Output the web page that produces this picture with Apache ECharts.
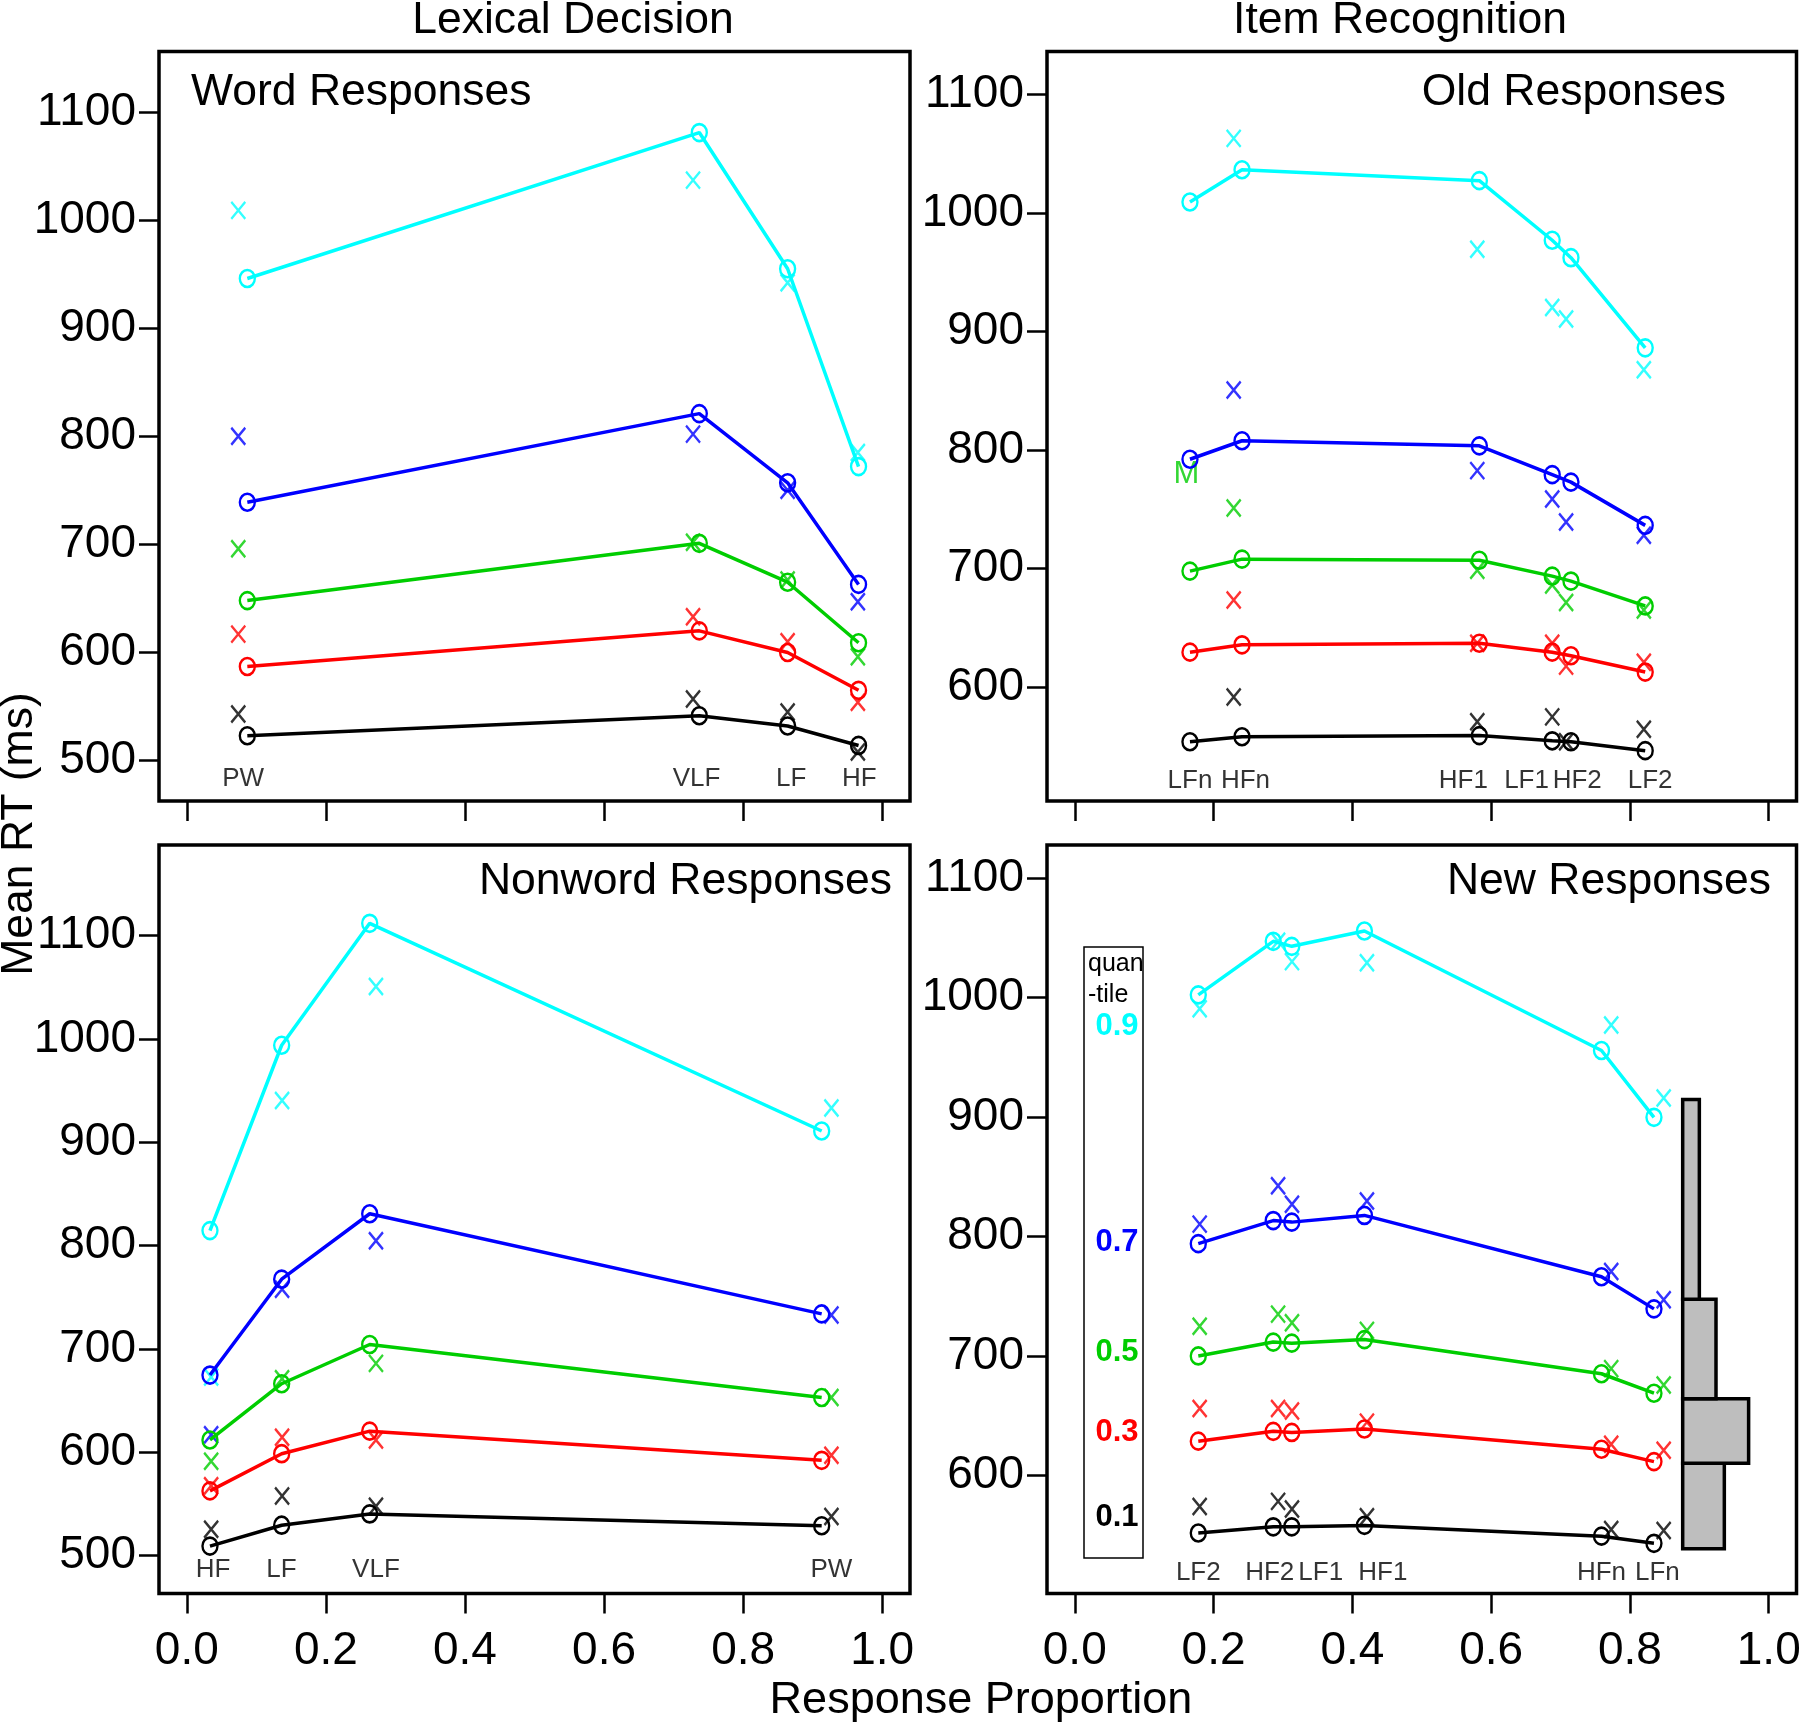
<!DOCTYPE html>
<html><head><meta charset="utf-8">
<script src="https://cdn.jsdelivr.net/npm/echarts@6/dist/echarts.min.js"></script>
<style>html,body{margin:0;padding:0;background:#fff}#c{width:1800px;height:1724px}</style>
</head><body><div id="c"></div>
<script>
const FONT = '"Liberation Sans", Arial, Helvetica, sans-serif';

// ---------- data ----------
const quantileLabels = ['0.1', '0.3', '0.5', '0.7', '0.9'];
const xTickValues = [0, 0.2, 0.4, 0.6, 0.8, 1.0];
const yTicksLeft = [500, 600, 700, 800, 900, 1000, 1100];
const yTicksRight = [600, 700, 800, 900, 1000, 1100];

// Lexical decision: word responses
const wordConds = ['PW', 'VLF', 'LF', 'HF'];
const wordPropModel = [0.087, 0.737, 0.864, 0.966];
const wordPropData = [0.074, 0.728, 0.864, 0.965];
const wordLabelProp = [0.081, 0.733, 0.869, 0.967];
const wordModelRT = [
  [523, 541.5, 532, 514],
  [587, 620, 600, 565],
  [648, 701, 665, 609],
  [739, 821, 757, 663],
  [946, 1081, 955, 772]
];
const wordDataRT = [
  [543, 557, 545, 508],
  [617, 633, 610, 554],
  [696, 702, 667, 596],
  [800, 802, 750, 647],
  [1009, 1037, 942, 785]
];

// Item recognition: old responses
const oldConds = ['LFn', 'HFn', 'HF1', 'LF1', 'HF2', 'LF2'];
const oldPropModel = [0.166, 0.241, 0.583, 0.688, 0.715, 0.822];
const oldPropData = [0.166, 0.229, 0.580, 0.688, 0.708, 0.820];
const oldLabelProp = [0.166, 0.246, 0.560, 0.651, 0.724, 0.829];
const oldModelRT = [
  [553.8, 558, 559, 554.6, 553.8, 546.3],
  [629.4, 635.6, 636.9, 629.4, 626.4, 612.6],
  [697.8, 707.9, 707, 693.6, 689.4, 668.4],
  [792.2, 807.8, 803.5, 779.2, 772.9, 736.4],
  [1009.3, 1036.5, 1027.3, 977, 962.3, 886.2]
];
const oldDataRT = [
  [null, 591.6, 570.6, 574.8, 553.8, 564.3],
  [null, 673.4, 636.9, 636.9, 617.6, 620.9],
  [null, 751, 698.6, 686, 671.3, 665],
  [null, 850.6, 782.6, 758.7, 739.3, 728],
  [null, 1063, 969.4, 920.3, 910.6, 867.8]
];
const oldMarkM = [0.161, 779];

// Lexical decision: nonword responses
const nonwordConds = ['HF', 'LF', 'VLF', 'PW'];
const nonwordPropModel = [0.0333, 0.1364, 0.263, 0.913];
const nonwordPropData = [0.035, 0.137, 0.272, 0.927];
const nonwordLabelProp = [0.0376, 0.136, 0.272, 0.927];
const nonwordModelRT = [
  [509.3, 529.5, 540.4, 529],
  [562.7, 598.7, 620.5, 592.3],
  [612, 666.4, 704.4, 653.1],
  [674.8, 767.6, 830.9, 734],
  [814.6, 994, 1112, 911]
];
const nonwordDataRT = [
  [525.6, 557.7, 547.8, 538],
  [567.6, 614.6, 612, 597.2],
  [591.3, 671.3, 686.1, 653.1],
  [617, 757.8, 804.7, 733],
  [673, 940.6, 1050.8, 933.2]
];

// Item recognition: new responses
const newConds = ['LF2', 'HF2', 'LF1', 'HF1', 'HFn', 'LFn'];
const newPropModel = [0.178, 0.286, 0.3127, 0.4174, 0.759, 0.8346];
const newPropData = [0.180, 0.293, 0.313, 0.421, 0.773, 0.8486];
const newLabelProp = [0.178, 0.281, 0.3545, 0.4439, 0.759, 0.8395];
const newModelRT = [
  [551.8, 557, 557, 558.2, 549.2, 543.2],
  [628.7, 636.9, 636, 638.9, 621.9, 611.6],
  [700, 711.6, 710.7, 713.7, 685.1, 668.8],
  [794, 813.3, 812, 817.6, 766.3, 739.4],
  [1002.2, 1047, 1042.8, 1055.6, 955.6, 899.7]
];
const newDataRT = [
  [574, 578.3, 571.9, 565.5, 554.8, 553.9],
  [656.1, 656.1, 653.9, 644.6, 626.1, 621],
  [724.8, 735, 727.8, 721.4, 689.4, 675.7],
  [810.3, 842.4, 827, 829.6, 770.6, 747],
  [990.6, 1047, 1030, 1029, 977, 915.8]
];
// RT distribution histogram (new responses): bin edges (ms) and bar extent in proportion units
const histBase = 0.876;
const histBinLow = [538.6, 610.3, 664.2, 747.4];
const histBinHigh = [610.3, 664.2, 747.4, 914.7];
const histBarEnd = [0.936, 0.971, 0.924, 0.900];

// ---------- style / layout ----------
const qColors = ['#000000', '#FF0000', '#00CD00', '#0000FF', '#00FFFF'];
const panels = [
  {conds: wordConds, pm: wordPropModel, pd: wordPropData, lp: wordLabelProp, mr: wordModelRT, dr: wordDataRT,
   grid: {left: 159, top: 51.5, width: 751, height: 749.5}, y: [462.6, 1156], yt: yTicksLeft, labelY: 483, xl: false},
  {conds: oldConds, pm: oldPropModel, pd: oldPropData, lp: oldLabelProp, mr: oldModelRT, dr: oldDataRT,
   grid: {left: 1047, top: 51.5, width: 749.5, height: 749.5}, y: [503.8, 1136.3], yt: yTicksRight, labelY: 521, xl: false},
  {conds: nonwordConds, pm: nonwordPropModel, pd: nonwordPropData, lp: nonwordLabelProp, mr: nonwordModelRT, dr: nonwordDataRT,
   grid: {left: 159, top: 845, width: 751, height: 748.5}, y: [463.4, 1187.8], yt: yTicksLeft, labelY: 486, xl: true},
  {conds: newConds, pm: newPropModel, pd: newPropData, lp: newLabelProp, mr: newModelRT, dr: newDataRT,
   grid: {left: 1047, top: 845, width: 749.5, height: 748.5}, y: [501.2, 1127.6], yt: yTicksRight, labelY: 518.5, xl: true}
];

const grids = [], xAxes = [], yAxes = [], series = [];
const X_MARK = 'path://M0 0L10 12M10 0L0 12';

panels.forEach((p, gi) => {
  grids.push(Object.assign({show: true, borderColor: '#000', borderWidth: 3.5, backgroundColor: 'transparent',
    containLabel: false, outerBoundsMode: 'none'}, p.grid));
  xAxes.push({
    gridIndex: gi, type: 'value', min: -0.04, max: 1.04,
    axisLine: {show: false, onZero: false}, splitLine: {show: false},
    axisTick: {show: true, customValues: xTickValues, length: 20, lineStyle: {color: '#000', width: 2.5}},
    axisLabel: {show: p.xl, customValues: xTickValues, formatter: v => v.toFixed(1), fontSize: 46,
      fontFamily: FONT, color: '#000', margin: 35}
  });
  yAxes.push({
    gridIndex: gi, type: 'value', min: p.y[0], max: p.y[1],
    axisLine: {show: false, onZero: false}, splitLine: {show: false},
    axisTick: {show: true, customValues: p.yt, length: 20, lineStyle: {color: '#000', width: 2.5}},
    axisLabel: {show: true, customValues: p.yt, formatter: v => String(v), fontSize: 46,
      fontFamily: FONT, color: '#000', margin: 23}
  });
  // observed data: x marks
  p.dr.forEach((row, q) => {
    const pts = [];
    row.forEach((v, i) => { if (v != null) pts.push([p.pd[i], v]); });
    series.push({
      type: 'scatter', xAxisIndex: gi, yAxisIndex: gi, name: 'data ' + quantileLabels[q],
      symbol: X_MARK, symbolSize: [14, 17], data: pts, silent: true,
      itemStyle: {color: 'rgba(0,0,0,0)', borderColor: qColors[q], borderWidth: 2.5}
    });
  });
  // model predictions: lines with circles
  p.mr.forEach((row, q) => {
    series.push({
      type: 'line', xAxisIndex: gi, yAxisIndex: gi, name: 'model ' + quantileLabels[q],
      data: row.map((v, i) => [p.pm[i], v]), symbol: 'circle', symbolSize: [15, 17], showSymbol: true,
      lineStyle: {color: qColors[q], width: 3.5},
      itemStyle: {color: 'rgba(0,0,0,0)', borderColor: qColors[q], borderWidth: 2.5}, silent: true
    });
  });
  // condition labels
  series.push({
    type: 'scatter', xAxisIndex: gi, yAxisIndex: gi, symbolSize: 1, silent: true,
    itemStyle: {color: 'rgba(0,0,0,0)'},
    data: p.conds.map((c, i) => ({name: c, value: [p.lp[i], p.labelY]})),
    label: {show: true, position: 'inside', formatter: d => d.name, fontSize: 26, fontFamily: FONT, color: '#000'}
  });
});

// "M" mark in Old Responses panel
series.push({
  type: 'scatter', xAxisIndex: 1, yAxisIndex: 1, symbolSize: 1, silent: true,
  itemStyle: {color: 'rgba(0,0,0,0)'},
  data: [{name: 'M', value: oldMarkM}],
  label: {show: true, position: 'inside', formatter: 'M', fontSize: 31, fontFamily: FONT, color: '#00CD00'}
});

// histogram in New Responses panel
series.push({
  type: 'custom', xAxisIndex: 3, yAxisIndex: 3, silent: true,
  encode: {x: [0, 1], y: [2, 3]},
  data: histBinLow.map((lo, i) => [histBase, histBarEnd[i], lo, histBinHigh[i]]),
  renderItem: (params, api) => {
    const a = api.coord([api.value(0), api.value(3)]);
    const b = api.coord([api.value(1), api.value(2)]);
    return {type: 'rect', shape: {x: a[0], y: a[1], width: b[0] - a[0], height: b[1] - a[1]},
      style: {fill: '#BEBEBE', stroke: '#000', lineWidth: 3.5}};
  }
});

const txt = (text, x, y, size, opts) => Object.assign({
  type: 'text', x: x, y: y, silent: true,
  style: Object.assign({text: text, fontSize: size, fontFamily: FONT, fill: '#000', align: 'left', verticalAlign: 'middle'}, (opts && opts.style) || {})
}, opts && opts.rotation != null ? {rotation: opts.rotation} : {});

const graphic = [
  txt('Lexical Decision', 573, 21, 44.5, {style: {align: 'center'}}),
  txt('Item Recognition', 1400, 21, 44.5, {style: {align: 'center'}}),
  txt('Word Responses', 191, 93, 44.5),
  txt('Old Responses', 1726, 93, 44.5, {style: {align: 'right'}}),
  txt('Nonword Responses', 892, 882, 44.5, {style: {align: 'right'}}),
  txt('New Responses', 1771, 882, 44.5, {style: {align: 'right'}}),
  txt('Response Proportion', 981, 1701, 45, {style: {align: 'center'}}),
  txt('Mean RT (ms)', 20, 834, 44.5, {style: {align: 'center'}, rotation: Math.PI / 2}),
  {type: 'rect', silent: true, shape: {x: 1084, y: 947, width: 59, height: 611},
   style: {fill: 'none', stroke: '#000', lineWidth: 1.5}},
  txt('quan', 1088, 964, 25),
  txt('-tile', 1088, 995, 25),
  txt(quantileLabels[4], 1117, 1026, 31, {style: {align: 'center', fontWeight: 'bold', fill: qColors[4]}}),
  txt(quantileLabels[3], 1117, 1242, 31, {style: {align: 'center', fontWeight: 'bold', fill: qColors[3]}}),
  txt(quantileLabels[2], 1117, 1352, 31, {style: {align: 'center', fontWeight: 'bold', fill: qColors[2]}}),
  txt(quantileLabels[1], 1117, 1432, 31, {style: {align: 'center', fontWeight: 'bold', fill: qColors[1]}}),
  txt(quantileLabels[0], 1117, 1517, 31, {style: {align: 'center', fontWeight: 'bold', fill: qColors[0]}})
];

const chart = echarts.init(document.getElementById('c'), null, {renderer: 'canvas'});
chart.setOption({
  animation: false,
  backgroundColor: '#fff',
  grid: grids, xAxis: xAxes, yAxis: yAxes, series: series, graphic: graphic
});
</script></body></html>
